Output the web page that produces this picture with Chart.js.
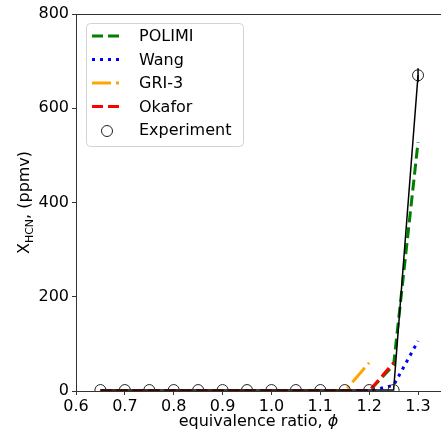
<!DOCTYPE html>
<html>
<head>
<meta charset="utf-8">
<script src="https://cdn.jsdelivr.net/npm/chart.js@4.4.1/dist/chart.umd.min.js"></script>
<style>
  html, body { margin: 0; padding: 0; background: #fff; }
  #c { display: block; }
</style>
</head>
<body>
<canvas id="c" width="441" height="435"></canvas>
<script>
// equivalence ratio values
const phi = [0.65, 0.7, 0.75, 0.8, 0.85, 0.9, 0.95, 1.0, 1.05, 1.1, 1.15, 1.2, 1.25, 1.3];

// HCN mole fraction (ppmv)
const polimi = [0, 0, 0, 0, 0, 0, 0, 0, 0, 0, 0, 0, 55, 528];
const wang = [0, 0, 0, 0, 0, 0, 0, 0, 0, 0, 0, 0, 12, 106];
const gri3 = [0, 0, 0, 0, 0, 0, 0, 0, 0, 0, 0, 60, null, null];
const okafor = [0, 0, 0, 0, 0, 0, 0, 0, 0, 0, 0, 0, 60, null];
const experiment = [2, 2, 2, 2, 2, 2, 2, 2, 2, 2, 2, 2, 2, 670];
const experimentErr = [0, 0, 0, 0, 0, 0, 0, 0, 0, 0, 0, 0, 0, 15];

const xTicks = [0.6, 0.7, 0.8, 0.9, 1.0, 1.1, 1.2, 1.3];
const yTicks = [0, 200, 400, 600, 800];

const FONT = 'DejaVu Sans';
const AXIS = '#333';

function pts(values) {
    return phi.map((x, i) => ({ x: x, y: values[i] }));
}

function lineSet(label, values, color, dash, order) {
    return {
        label: label,
        data: pts(values),
        borderColor: color,
        backgroundColor: color,
        borderWidth: 3,
        borderDash: dash,
        borderCapStyle: 'butt',
        pointRadius: 0,
        fill: false,
        tension: 0,
        spanGaps: false,
        order: order
    };
}

const datasets = [
    lineSet('POLIMI', polimi, '#008000', [11, 5], 4),
    lineSet('Wang', wang, '#0000ff', [3, 5], 3),
    lineSet('GRI-3', gri3, '#ffa500', [19, 5, 3, 5], 2),
    lineSet('Okafor', okafor, '#ff0000', [11, 5], 1),
    {
        label: 'Experiment',
        data: pts(experiment),
        borderColor: '#000',
        borderWidth: 1.5,
        pointRadius: 5.5,
        pointBorderWidth: 1,
        pointBorderColor: '#222',
        pointBackgroundColor: 'rgba(0,0,0,0)',
        fill: false,
        tension: 0,
        order: 0
    }
];

// frame top line, error bar, legend and axis titles
const extras = {
    id: 'extras',
    afterDatasetsDraw(chart) {
        const ctx = chart.ctx;
        const xs = chart.scales.x, ys = chart.scales.y;
        ctx.save();
        ctx.strokeStyle = '#000';
        ctx.lineWidth = 1.5;
        phi.forEach((x, i) => {
            if (!experimentErr[i]) return;
            const px = xs.getPixelForValue(x);
            ctx.beginPath();
            ctx.moveTo(px, ys.getPixelForValue(experiment[i] - experimentErr[i]));
            ctx.lineTo(px, ys.getPixelForValue(experiment[i] + experimentErr[i]));
            ctx.stroke();
        });
        ctx.restore();
    },
    afterDraw(chart) {
        const ctx = chart.ctx;
        const a = chart.chartArea;
        ctx.save();

        ctx.strokeStyle = AXIS;
        ctx.lineWidth = 1;
        ctx.beginPath();
        ctx.moveTo(a.left, a.top + 0.5);
        ctx.lineTo(a.right, a.top + 0.5);
        ctx.stroke();

        // legend
        const lx = 86, ly = 23, lw = 157, lh = 123;
        ctx.fillStyle = 'rgba(255,255,255,0.8)';
        ctx.strokeStyle = '#d3d3d3';
        ctx.lineWidth = 1;
        ctx.beginPath();
        ctx.roundRect(lx + 0.5, ly + 0.5, lw, lh, 4);
        ctx.fill();
        ctx.stroke();

        ctx.font = '16px "' + FONT + '"';
        ctx.textBaseline = 'middle';
        ctx.textAlign = 'left';
        chart.data.datasets.forEach((ds, i) => {
            const cy = 36 + i * 23.5;
            if (ds.label === 'Experiment') {
                ctx.strokeStyle = '#222';
                ctx.lineWidth = 1;
                ctx.beginPath();
                ctx.arc(107, cy + 1, 5.5, 0, Math.PI * 2);
                ctx.stroke();
            } else {
                ctx.strokeStyle = ds.borderColor;
                ctx.lineWidth = 3;
                ctx.lineCap = 'butt';
                ctx.setLineDash(ds.borderDash);
                ctx.beginPath();
                ctx.moveTo(92, cy);
                ctx.lineTo(121, cy);
                ctx.stroke();
                ctx.setLineDash([]);
            }
            ctx.fillStyle = '#000';
            ctx.fillText(ds.label, 139, cy + 1);
        });

        // x title
        ctx.fillStyle = '#000';
        ctx.textBaseline = 'alphabetic';
        const xt1 = 'equivalence ratio, ';
        const xt2 = 'ϕ';
        ctx.font = '16px "' + FONT + '"';
        const w1 = ctx.measureText(xt1).width;
        ctx.font = 'italic 16px "' + FONT + '"';
        const w2 = ctx.measureText(xt2).width;
        let sx = (a.left + a.right) / 2 - (w1 + w2) / 2;
        ctx.font = '16px "' + FONT + '"';
        ctx.fillText(xt1, sx, 426);
        ctx.font = 'italic 16px "' + FONT + '"';
        ctx.fillText(xt2, sx + w1, 426);

        // y title with subscript
        ctx.translate(29, (a.top + a.bottom) / 2);
        ctx.rotate(-Math.PI / 2);
        const parts = [
            { t: 'X', f: '16px', dy: 0 },
            { t: 'HCN', f: '11px', dy: 3.5 },
            { t: ', (ppmv)', f: '16px', dy: 0 }
        ];
        let total = 0;
        parts.forEach(p => {
            ctx.font = p.f + ' "' + FONT + '"';
            p.w = ctx.measureText(p.t).width;
            total += p.w;
        });
        let px = -total / 2;
        parts.forEach(p => {
            ctx.font = p.f + ' "' + FONT + '"';
            ctx.fillText(p.t, px, p.dy);
            px += p.w;
        });
        ctx.restore();
    }
};

new Chart(document.getElementById('c').getContext('2d'), {
    type: 'line',
    data: { datasets: datasets },
    options: {
        responsive: false,
        animation: false,
        devicePixelRatio: 1,
        layout: { autoPadding: false, padding: { top: 14, right: 0, left: 0, bottom: 0 } },
        plugins: { legend: { display: false }, tooltip: { enabled: false } },
        scales: {
            x: {
                type: 'linear',
                min: 0.6,
                max: 1.347,
                afterBuildTicks: s => { s.ticks = xTicks.map(v => ({ value: v })); },
                afterFit: s => { s.height = 44; s.paddingLeft = 0; s.paddingRight = 0; },
                ticks: {
                    color: '#000',
                    font: { family: FONT, size: 16 },
                    padding: 2,
                    maxRotation: 0,
                    callback: v => v.toFixed(1)
                },
                grid: { drawOnChartArea: false, drawTicks: true, tickLength: 4, tickColor: AXIS },
                border: { display: true, color: AXIS, width: 1 }
            },
            y: {
                min: 0,
                max: 800,
                afterBuildTicks: s => { s.ticks = yTicks.map(v => ({ value: v })); },
                afterFit: s => { s.width = 76; s.paddingTop = 0; s.paddingBottom = 0; },
                ticks: {
                    color: '#000',
                    font: { family: FONT, size: 16 },
                    padding: 3
                },
                grid: { drawOnChartArea: false, drawTicks: true, tickLength: 4, tickColor: AXIS },
                border: { display: true, color: AXIS, width: 1 }
            }
        }
    },
    plugins: [extras]
});
</script>
</body>
</html>
